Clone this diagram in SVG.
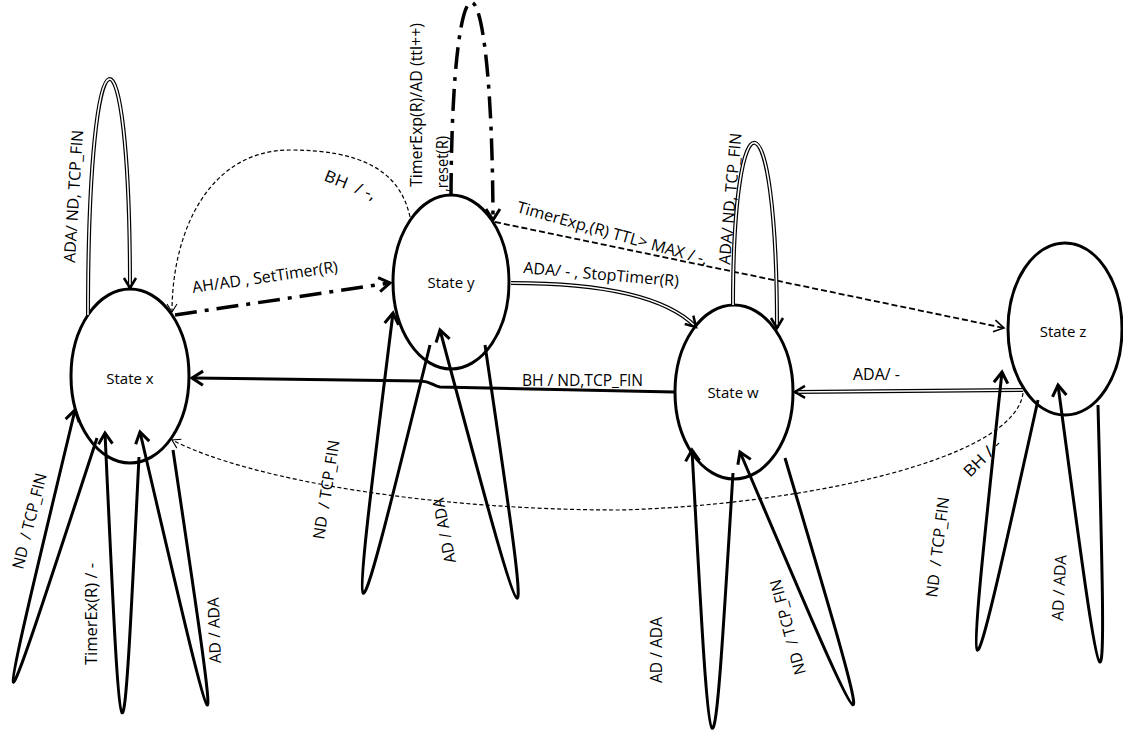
<svg xmlns="http://www.w3.org/2000/svg" width="1123" height="733" viewBox="0 0 1123 733">
<style>
  .node ellipse { fill: #fff; stroke: #000; stroke-width: 3; }
  .st { font-family: "Open Sans", "Liberation Sans", sans-serif; font-size: 15px; text-anchor: middle; fill: #000; }
  .lbl { font-family: "Open Sans", "Liberation Sans", sans-serif; font-size: 16px; fill: #000; white-space: pre; }
  .thick { fill: none; stroke: #000; stroke-width: 3; }
  .dd { fill: none; stroke: #000; stroke-width: 3.5; stroke-dasharray: 22 8 4 8; }
  .dblo { fill: none; stroke: #000; stroke-width: 4; }
  .dbli { fill: none; stroke: #fff; stroke-width: 1.6; }
  .dthin { fill: none; stroke: #000; stroke-width: 1.2; stroke-dasharray: 4 2.5; }
  .dmed { fill: none; stroke: #000; stroke-width: 1.8; stroke-dasharray: 6 3; }
</style>
<defs>
  <marker id="ah" markerUnits="userSpaceOnUse" viewBox="-15 -10 20 20" markerWidth="20" markerHeight="20" refX="0" refY="0" orient="auto" overflow="visible">
    <path d="M-11,-7 L0,0 L-11,7" fill="none" stroke="#000" stroke-width="3" stroke-dasharray="none" stroke-linejoin="miter"/>
  </marker>
  <marker id="ahd" markerUnits="userSpaceOnUse" viewBox="-15 -10 20 20" markerWidth="20" markerHeight="20" refX="0" refY="0" orient="auto" overflow="visible">
    <path d="M-10,-6 L0,0 L-10,6" fill="none" stroke="#000" stroke-width="2.5" stroke-dasharray="none"/>
  </marker>
  <marker id="ahm" markerUnits="userSpaceOnUse" viewBox="-15 -10 20 20" markerWidth="20" markerHeight="20" refX="0" refY="0" orient="auto" overflow="visible">
    <path d="M-10,-6 L0,0 L-10,6" fill="none" stroke="#000" stroke-width="1.6" stroke-dasharray="none"/>
  </marker>
  <marker id="aht" markerUnits="userSpaceOnUse" viewBox="-15 -10 20 20" markerWidth="20" markerHeight="20" refX="0" refY="0" orient="auto" overflow="visible">
    <path d="M-8,-5 L0,0 L-8,5" fill="none" stroke="#000" stroke-width="1.1" stroke-dasharray="none"/>
  </marker>
</defs>
<rect width="1123" height="733" fill="#fff"/>

<g id="state-x" class="node">
  <ellipse cx="130" cy="376" rx="59" ry="87"/>
  <text class="st" x="130" y="384">State x</text>
</g>
<g id="state-y" class="node">
  <ellipse cx="451" cy="282" rx="58" ry="87"/>
  <text class="st" x="451" y="288">State y</text>
</g>
<g id="state-w" class="node">
  <ellipse cx="734" cy="392" rx="59" ry="87"/>
  <text class="st" x="733" y="398">State w</text>
</g>
<g id="state-z" class="node">
  <ellipse cx="1065" cy="329" rx="57" ry="86"/>
  <text class="st" x="1063" y="337">State z</text>
</g>

<g id="connectors">
  <!-- x self loop top (double) -->
  <path class="dblo" d="M88,315 C88,5 130,5 130,288"/>
  <path class="dbli" d="M88,315 C88,5 130,5 130,288" marker-end="url(#ahd)"/>
  <!-- BH y -> x dashed -->
  <path class="dthin" d="M410,217 C400,170 360,150 290,150 C210,150 172,230 172,312" marker-end="url(#aht)"/>
  <!-- AH/AD x -> y dash-dot -->
  <path class="dd" d="M175,315 L390,283" marker-end="url(#ah)"/>
  <!-- y self loop dash-dot -->
  <path class="dd" d="M451,195 C452,-66 492,-66 493,220" marker-end="url(#ah)"/>
  <!-- TTL > MAX y -> z dashed -->
  <path class="dmed" d="M495,222 L1004,328" marker-end="url(#ahm)"/>
  <!-- ADA y -> w double -->
  <path class="dblo" d="M511,283 C580,283 660,290 696,327"/>
  <path class="dbli" d="M511,283 C580,283 660,290 696,327" marker-end="url(#ahd)"/>
  <!-- w self loop top double -->
  <path class="dblo" d="M733,305 C733,85 777,85 777,328"/>
  <path class="dbli" d="M733,305 C733,85 777,85 777,328" marker-end="url(#ahd)"/>
  <!-- BH w -> x thick -->
  <path class="thick" d="M674,392 L440,387 C433,386 431,381 420,381 L192,378" marker-end="url(#ah)"/>
  <!-- ADA z -> w double -->
  <path class="dblo" d="M1023,390 L795,392"/>
  <path class="dbli" d="M1023,390 L795,392" marker-end="url(#ahd)"/>
  <!-- BH z -> x dashed -->
  <path class="dthin" d="M1023,393 C1015,460 800,505 620,510 C430,510 250,480 172,440" marker-end="url(#aht)"/>

  <!-- bottom self loops -->
  <path class="thick" d="M97,438 C-11,768 -11,768 75,410" marker-end="url(#ah)"/>
  <path class="thick" d="M139,457 C122,802 122,802 105,433" marker-end="url(#ah)"/>
  <path class="thick" d="M173,450 C224,793 224,793 140,432" marker-end="url(#ah)"/>
  <path class="thick" d="M430,345 C347,681 347,681 393,313" marker-end="url(#ah)"/>
  <path class="thick" d="M485,345 C535,685 535,685 440,330" marker-end="url(#ah)"/>
  <path class="thick" d="M733,473 C712,817 712,817 692,450" marker-end="url(#ah)"/>
  <path class="thick" d="M785,458 C883,788 883,788 740,452" marker-end="url(#ah)"/>
  <path class="thick" d="M1038,400 C963,738 963,738 1002,372" marker-end="url(#ah)"/>
  <path class="thick" d="M1098,405 C1107,751 1107,751 1058,385" marker-end="url(#ah)"/>
</g>

<g id="labels">
  <text class="lbl" transform="translate(75,263) rotate(-86.5)" textLength="133" lengthAdjust="spacingAndGlyphs">ADA/ ND, TCP_FIN</text>
  <text class="lbl" transform="translate(323,180) rotate(22)" textLength="54" lengthAdjust="spacingAndGlyphs">BH  / -,</text>
  <text class="lbl" transform="translate(193,293) rotate(-8.2)" textLength="147" lengthAdjust="spacingAndGlyphs">AH/AD , SetTimer(R)</text>
  <text class="lbl" transform="translate(422,187) rotate(-90)" textLength="164" lengthAdjust="spacingAndGlyphs">TimerExp(R)/AD (ttl++)</text>
  <text class="lbl" transform="translate(448,192) rotate(-90)" textLength="56" lengthAdjust="spacingAndGlyphs">,reset(R)</text>
  <text class="lbl" transform="translate(516,212) rotate(15.6)" textLength="197" lengthAdjust="spacingAndGlyphs">TimerExp,(R) TTL&gt; MAX / -,</text>
  <text class="lbl" transform="translate(523,273) rotate(5)" textLength="156" lengthAdjust="spacingAndGlyphs">ADA/ - , StopTimer(R)</text>
  <text class="lbl" transform="translate(522,386)" textLength="121" lengthAdjust="spacingAndGlyphs">BH / ND,TCP_FIN</text>
  <text class="lbl" transform="translate(853,380)" textLength="47" lengthAdjust="spacingAndGlyphs">ADA/ -</text>
  <text class="lbl" transform="translate(730,265) rotate(-85)" textLength="132" lengthAdjust="spacingAndGlyphs">ADA/ ND, TCP_FIN</text>
  <text class="lbl" transform="translate(970,478) rotate(-45)" textLength="46" lengthAdjust="spacingAndGlyphs">BH / -</text>
  <text class="lbl" transform="translate(23,570) rotate(-76)" textLength="98" lengthAdjust="spacingAndGlyphs">ND  / TCP_FIN</text>
  <text class="lbl" transform="translate(97,665) rotate(-90)" textLength="102" lengthAdjust="spacingAndGlyphs">TimerEx(R) / -</text>
  <text class="lbl" transform="translate(221,663) rotate(-92)" textLength="66" lengthAdjust="spacingAndGlyphs">AD / ADA</text>
  <text class="lbl" transform="translate(324,540) rotate(-81)" textLength="100" lengthAdjust="spacingAndGlyphs">ND  / TCP_FIN</text>
  <text class="lbl" transform="translate(456,562) rotate(-101)" textLength="66" lengthAdjust="spacingAndGlyphs">AD / ADA</text>
  <text class="lbl" transform="translate(662,683) rotate(-90)" textLength="66" lengthAdjust="spacingAndGlyphs">AD / ADA</text>
  <text class="lbl" transform="translate(806,673) rotate(-105)" textLength="98" lengthAdjust="spacingAndGlyphs">ND  / TCP_FIN</text>
  <text class="lbl" transform="translate(937,598) rotate(-83)" textLength="101" lengthAdjust="spacingAndGlyphs">ND  / TCP_FIN</text>
  <text class="lbl" transform="translate(1063,621) rotate(-87)" textLength="66" lengthAdjust="spacingAndGlyphs">AD / ADA</text>
</g>
</svg>
